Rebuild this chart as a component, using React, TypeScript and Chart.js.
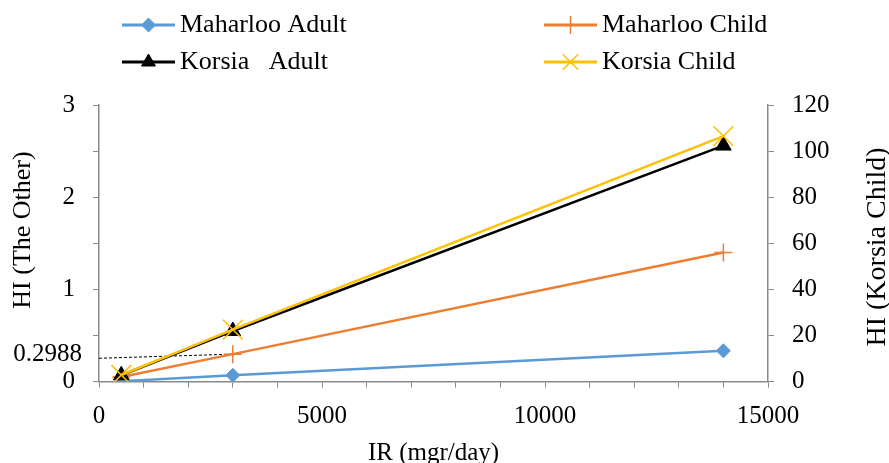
import React, { useEffect, useRef } from 'react';
import { Chart, registerables } from 'chart.js';
import { drawPoint } from 'chart.js/helpers';

Chart.register(...registerables);

// ---------- data ----------
const irValues = [500, 3000, 14000];
const maharlooAdult = [0.005, 0.07, 0.335];
const maharlooChild = [0.05, 0.2988, 1.4];
const korsiaAdult = [0.07, 0.55, 2.56];
const korsiaChild = [2.9, 22.6, 106.5]; // right axis
const refLineX = [0, 3100];
const refLineY = [0.254, 0.3];
const refValue = 0.2988;
const refLabel = '0.2988';
const seriesLabels = ['Maharloo Adult', 'Maharloo Child', 'Korsia   Adult', 'Korsia Child'];
const leftTitle = 'HI (The Other)';
const rightTitle = 'HI (Korsia Child)';
const xTitle = 'IR (mgr/day)';
const xLabelStep = 5000;

const FONT = 'Liberation Serif';
const AXIS_GREY = '#898989';

const toPts = (xs: number[], ys: number[]) => xs.map((x, i) => ({ x, y: ys[i] }));

const legendRadius = [7, 9, 8, 11];

const extrasPlugin = {
  id: 'extras',
  afterDraw(chart: any) {
    const ctx = chart.ctx;
    ctx.save();
    // reference value label
    const yScale = chart.scales.y;
    ctx.font = `25px "${FONT}"`;
    ctx.fillStyle = '#000';
    ctx.textAlign = 'right';
    ctx.textBaseline = 'middle';
    ctx.fillText(refLabel, 82, yScale.getPixelForValue(refValue));
    // vertical axis titles (both read bottom-to-top)
    const drawVTitle = (text: string, x: number, y: number, size: number) => {
      ctx.save();
      ctx.translate(x, y);
      ctx.rotate(-Math.PI / 2);
      ctx.font = `${size}px "${FONT}"`;
      ctx.textAlign = 'center';
      ctx.textBaseline = 'middle';
      ctx.fillStyle = '#000';
      ctx.fillText(text, 0, 0);
      ctx.restore();
    };
    drawVTitle(leftTitle, 23, 230, 26);
    drawVTitle(rightTitle, 878, 247, 28);
    // legend in 2 columns
    const colX = [122, 544];
    const rowY = [25, 62];
    seriesLabels.forEach((label, i) => {
      const ds = chart.data.datasets[i];
      const x0 = colX[i % 2];
      const x1 = x0 + 53;
      const y = rowY[Math.floor(i / 2)];
      ctx.setLineDash([]);
      ctx.strokeStyle = ds.borderColor;
      ctx.lineWidth = 3;
      ctx.beginPath();
      ctx.moveTo(x0, y);
      ctx.lineTo(x1, y);
      ctx.stroke();
      ctx.fillStyle = ds.pointBackgroundColor;
      ctx.strokeStyle = ds.pointBorderColor;
      ctx.lineWidth = ds.pointBorderWidth;
      drawPoint(ctx, { pointStyle: ds.pointStyle, radius: legendRadius[i], borderWidth: ds.pointBorderWidth, rotation: 0 }, (x0 + x1) / 2, y);
      ctx.fillStyle = '#000';
      ctx.font = `26px "${FONT}"`;
      ctx.textAlign = 'left';
      ctx.textBaseline = 'middle';
      ctx.fillText(label, x1 + 5, y);
    });
    ctx.restore();
  },
};

export default function App() {
  const ref = useRef<HTMLCanvasElement | null>(null);

  useEffect(() => {
    if (!ref.current) return;
    const tickFont = { family: FONT, size: 25 };
    const grid = { drawOnChartArea: false, drawTicks: true, tickLength: 6, color: AXIS_GREY, lineWidth: 1 };
    const border = { color: AXIS_GREY, width: 1.5 };
    const chart = new Chart(ref.current, {
      type: 'line',
      data: {
        datasets: [
          {
            label: seriesLabels[0],
            data: toPts(irValues, maharlooAdult),
            borderColor: '#5B9BD5',
            backgroundColor: '#5B9BD5',
            pointBackgroundColor: '#5B9BD5',
            pointBorderColor: '#5B9BD5',
            pointBorderWidth: 1,
            pointStyle: 'rectRot',
            pointRadius: 7,
            borderWidth: 2.5,
            yAxisID: 'y',
            order: 4,
          },
          {
            label: seriesLabels[1],
            data: toPts(irValues, maharlooChild),
            borderColor: '#ED7D31',
            backgroundColor: '#ED7D31',
            pointBackgroundColor: '#ED7D31',
            pointBorderColor: '#ED7D31',
            pointBorderWidth: 1.5,
            pointStyle: 'cross',
            pointRadius: 9,
            borderWidth: 2.5,
            yAxisID: 'y',
            order: 3,
          },
          {
            label: seriesLabels[2],
            data: toPts(irValues, korsiaAdult),
            borderColor: '#000000',
            backgroundColor: '#000000',
            pointBackgroundColor: '#000000',
            pointBorderColor: '#000000',
            pointBorderWidth: 1,
            pointStyle: 'triangle',
            pointRadius: 9,
            borderWidth: 2.5,
            yAxisID: 'y',
            order: 2,
          },
          {
            label: seriesLabels[3],
            data: toPts(irValues, korsiaChild),
            borderColor: '#FFC000',
            backgroundColor: '#FFC000',
            pointBackgroundColor: '#FFC000',
            pointBorderColor: '#FFC000',
            pointBorderWidth: 1.5,
            pointStyle: 'crossRot',
            pointRadius: 14,
            borderWidth: 2.5,
            yAxisID: 'y1',
            order: 1,
          },
          {
            label: 'ref',
            data: toPts(refLineX, refLineY),
            borderColor: '#000000',
            borderWidth: 1,
            borderDash: [3, 2],
            pointRadius: 0,
            yAxisID: 'y',
            order: 5,
          },
        ],
      },
      options: {
        responsive: false,
        animation: false,
        layout: { padding: { top: 105, left: 0, right: 0, bottom: 0 } },
        elements: { line: { tension: 0 } },
        plugins: { legend: { display: false }, tooltip: { enabled: false } },
        scales: {
          x: {
            type: 'linear',
            min: 0,
            max: 15000,
            ticks: {
              stepSize: 1000,
              autoSkip: false,
              maxRotation: 0,
              padding: 14,
              color: '#000',
              font: tickFont,
              callback: (v: any) => (Number(v) % xLabelStep === 0 ? String(v) : ''),
            },
            grid,
            border,
            title: {
              display: true,
              text: xTitle,
              color: '#000',
              font: { family: FONT, size: 25, lineHeight: 1 },
              padding: { top: 0, bottom: -3 },
            },
            afterFit: (s: any) => {
              s.height = 81.3;
            },
          },
          y: {
            type: 'linear',
            position: 'left',
            min: 0,
            max: 3,
            ticks: {
              stepSize: 0.5,
              autoSkip: false,
              padding: 18,
              color: '#000',
              font: tickFont,
              callback: (v: any) => (Number.isInteger(Number(v)) ? String(v) : ''),
            },
            grid,
            border,
            title: { display: false },
            afterFit: (s: any) => {
              s.width = 99;
            },
          },
          y1: {
            type: 'linear',
            position: 'right',
            min: 0,
            max: 120,
            ticks: {
              stepSize: 20,
              autoSkip: false,
              padding: 18,
              color: '#000',
              font: tickFont,
            },
            grid,
            border,
            title: { display: false },
            afterFit: (s: any) => {
              s.width = 121;
            },
          },
        },
      },
      plugins: [extrasPlugin],
    } as any);
    return () => chart.destroy();
  }, []);

  return (
    <div style={{ position: 'fixed', left: 0, top: 0, width: 889, height: 463, background: '#fff' }}>
      <canvas ref={ref} width={889} height={463} style={{ width: 889, height: 463, display: 'block' }} />
    </div>
  );
}
